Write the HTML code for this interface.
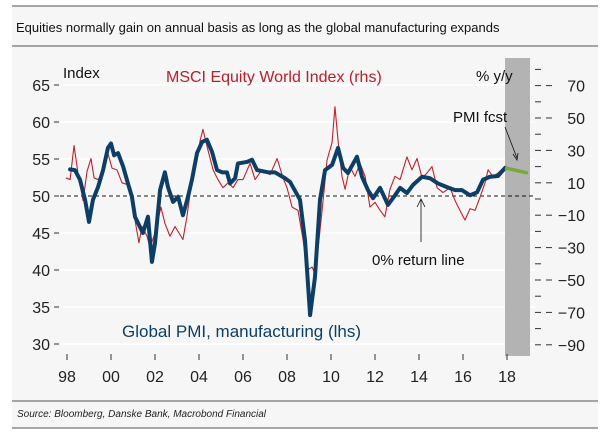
<!DOCTYPE html>
<html><head><meta charset="utf-8"><style>
body{margin:0;background:#fff;}
svg text{font-family:"Liberation Sans",sans-serif;}
</style></head><body>
<svg width="600" height="437" viewBox="0 0 600 437" xmlns="http://www.w3.org/2000/svg">
<rect x="12" y="6" width="586" height="422" fill="#f6f6f6"/>
<line x1="12" y1="6" x2="598" y2="6" stroke="#888" stroke-width="1.5"/>
<text x="16" y="32" font-size="13" fill="#111">Equities normally gain on annual basis as long as the global manufacturing expands</text>
<line x1="12" y1="46" x2="598" y2="46" stroke="#888" stroke-width="1.5"/>
<line x1="12" y1="401" x2="598" y2="401" stroke="#888" stroke-width="1.5"/>
<text x="17" y="417" font-size="10" font-style="italic" fill="#222">Source: Bloomberg, Danske Bank, Macrobond Financial</text>
<line x1="12" y1="428" x2="598" y2="428" stroke="#888" stroke-width="1.5"/>
<g id="grid"></g>
<rect x="505" y="58" width="25" height="298" fill="#b3b3b3"/>
<g id="axes"></g>
<line x1="60" y1="196" x2="535" y2="196" stroke="#111" stroke-width="1" stroke-dasharray="4,3"/>
<g id="series"></g>
<text x="63" y="78" font-size="15" fill="#111">Index</text>
<text x="166" y="82" font-size="16" fill="#b5202b">MSCI Equity World Index (rhs)</text>
<text x="476" y="81" font-size="15" fill="#111">% y/y</text>
<text x="453" y="122" font-size="15" fill="#111">PMI fcst</text>
<line x1="505" y1="127" x2="517" y2="158" stroke="#111" stroke-width="0.8"/>
<path d="M513,154 L517,160 L518,153" fill="none" stroke="#111" stroke-width="0.8"/>
<text x="372" y="265" font-size="15" fill="#111">0% return line</text>
<line x1="421" y1="242" x2="421" y2="200" stroke="#111" stroke-width="0.8"/>
<path d="M417,207 L421,199 L425,207" fill="none" stroke="#111" stroke-width="0.8"/>
<text x="122" y="337" font-size="17" fill="#0d3f66">Global PMI, manufacturing (lhs)</text>
</svg>
<script>
const leftTicks=[65,60,55,50,45,40,35,30];
const rightTicks=[70,50,30,10,-10,-30,-50,-70,-90];
const xTickLabels=["98","00","02","04","06","08","10","12","14","16","18"];
const xTickYears=[1998,2000,2002,2004,2006,2008,2010,2012,2014,2016,2018];
const pmiYears=[1998.14,1998.36,1998.59,1998.82,1999.0,1999.18,1999.41,1999.64,1999.86,2000.0,2000.14,2000.32,2000.55,2000.77,2000.95,2001.09,2001.32,2001.45,2001.68,2001.86,2002.0,2002.23,2002.45,2002.59,2002.82,2003.05,2003.27,2003.5,2003.68,2003.91,2004.14,2004.36,2004.59,2004.82,2005.05,2005.27,2005.41,2005.64,2005.77,2006.18,2006.41,2006.64,2007.14,2007.45,2007.91,2008.14,2008.59,2008.82,2009.05,2009.27,2009.5,2009.73,2010.05,2010.32,2010.55,2010.77,2011.18,2011.41,2011.68,2011.91,2012.23,2012.59,2012.91,2013.14,2013.45,2013.73,2014.14,2014.5,2014.86,2015.27,2015.64,2015.95,2016.32,2016.64,2016.91,2017.23,2017.59,2017.91];
const pmiValues=[53.6,53.5,52.2,49.5,46.5,49.5,51.2,53.5,56.5,57.1,55.5,55.8,54,51.7,49.9,47.2,45.8,45,47.2,41.1,43.6,50.8,53.2,51.2,49.2,49.9,47.4,49.9,52.2,55.8,57.3,57.6,56,53.5,53.2,53.2,51.7,52.4,54.4,54.6,54.9,53.5,53.2,53.2,52.4,51.9,49.5,44,33.9,39,49.5,53.5,54.2,56.5,53.8,53.1,55.3,52.6,50.8,49.7,51.1,48.8,50.1,51.1,50.4,51.5,52.6,52.4,51.7,51.2,50.8,50.8,50.1,50.5,52.2,52.6,52.7,53.8];
const fcstYears=[2017.91,2018.95];
const fcstValues=[53.8,53.1];
const msciYears=[1997.95,1998.14,1998.32,1998.5,1998.73,1998.91,1999.09,1999.23,1999.41,1999.64,1999.82,2000.05,2000.27,2000.5,2000.73,2000.95,2001.09,2001.27,2001.41,2001.64,2001.77,2002.0,2002.27,2002.45,2002.68,2002.91,2003.09,2003.27,2003.45,2003.68,2003.91,2004.05,2004.18,2004.41,2004.64,2004.86,2005.09,2005.32,2005.55,2005.77,2006.0,2006.32,2006.55,2006.86,2007.23,2007.55,2007.82,2008.0,2008.23,2008.5,2008.73,2008.91,2009.14,2009.27,2009.41,2009.64,2009.82,2010.05,2010.18,2010.32,2010.5,2010.64,2010.86,2011.09,2011.32,2011.55,2011.77,2012.0,2012.23,2012.45,2012.68,2012.91,2013.14,2013.45,2013.68,2013.91,2014.14,2014.36,2014.59,2014.82,2015.09,2015.41,2015.64,2015.86,2016.09,2016.32,2016.55,2016.77,2017.0,2017.14,2017.36,2017.59,2017.82];
const msciValues=[13,12,33,16,-1,17,25,13,12,16,30,19,18,10,9,-1,-13,-27,-17,-23,-30,-21,-5,-15,-23,-17,-21,-25,-11,12,24,36,43,30,18,12,7,10,7,12,12,22,12,18,15,25,13,7,-5,-7,-25,-44,-42,-46,-31,-1,24,35,57,36,14,6,20,14,22,14,-5,-2,-7,-11,6,14,12,26,18,25,13,16,20,7,4,7,-1,-7,-13,-6,-7,1,10,18,14,16,19];

const NS="http://www.w3.org/2000/svg";
const xS=y=>67+(y-1998)*22;
const yL=v=>196-(v-50)*7.4;
const yR=v=>199-v*1.62;
function mk(tag,attrs,parent){const e=document.createElementNS(NS,tag);for(const k in attrs)e.setAttribute(k,attrs[k]);document.getElementById(parent).appendChild(e);return e;}
leftTicks.forEach(v=>{
  const g=mk('line',{x1:60,x2:535,y1:yL(v),y2:yL(v),stroke:'#fff','stroke-width':1.5},'grid');
  
  
  const t=mk('line',{x1:54,x2:59,y1:yL(v),y2:yL(v),stroke:'#333'},'axes');
  
  
  const l=mk('text',{x:50,y:yL(v)+6,'font-size':16,'text-anchor':'end',fill:'#222'},'axes');
  l.textContent=v;
  
  
});
for(let v=80;v>=-90;v-=10){
  const t=mk('line',{x1:535,x2:541,y1:yR(v),y2:yR(v),stroke:'#333'},'axes');
  
  
}
rightTicks.forEach(v=>{
  const t=mk('line',{x1:546,x2:552,y1:yR(v),y2:yR(v),stroke:'#333'},'axes');
  
  
  const l=mk('text',{x:585,y:yR(v)+6,'font-size':16,'text-anchor':'end',fill:'#222'},'axes');
  l.textContent=v<0?'\u2212'+(-v):v;
  
  
});
xTickYears.forEach((yr,i)=>{
  const t=mk('line',{x1:xS(yr),x2:xS(yr),y1:354,y2:360,stroke:'#333'},'axes');
  
  
  const l=mk('text',{x:xS(yr),y:382,'font-size':16,'text-anchor':'middle',fill:'#222'},'axes');
  l.textContent=xTickLabels[i];
  
  
});
const msci=mk('polyline',{points:msciYears.map((y,i)=>xS(y)+','+yR(msciValues[i])).join(' '),fill:'none',stroke:'#c0202a','stroke-width':1.1,'stroke-linejoin':'round'},'series');


const pmi=mk('polyline',{points:pmiYears.map((y,i)=>xS(y)+','+yL(pmiValues[i])).join(' '),fill:'none',stroke:'#0d3f66','stroke-width':4,'stroke-linejoin':'round','stroke-linecap':'round'},'series');


const fc=mk('polyline',{points:fcstYears.map((y,i)=>xS(y)+','+yL(fcstValues[i])).join(' '),fill:'none',stroke:'#7aa83a','stroke-width':3.5},'series');


</script>
</body></html>
